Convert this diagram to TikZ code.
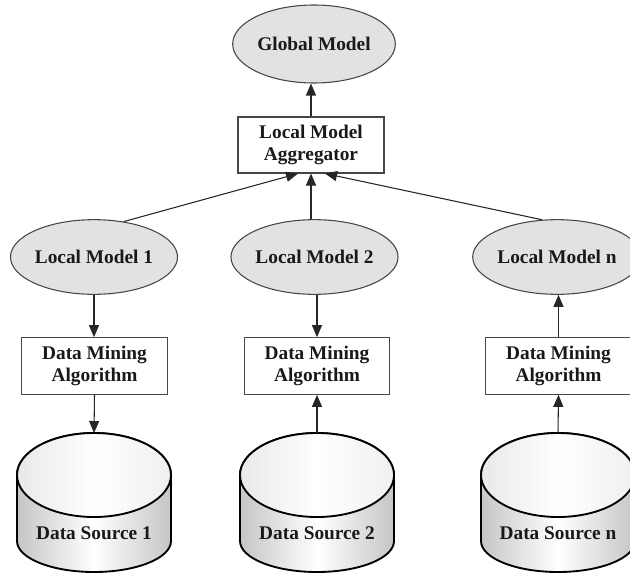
\documentclass[tikz,border=0pt]{standalone}
\usepackage{fontspec}
\setmainfont{Liberation Serif}
\usetikzlibrary{shapes.geometric,arrows.meta,calc}

\definecolor{modelfill}{RGB}{226,226,226}
\definecolor{edgegray}{RGB}{70,70,70}

\tikzset{
  base/.style={font=\fontsize{14.5}{17}\selectfont\bfseries, text=black!90, align=center, inner sep=0pt},
  model/.style={base, ellipse, draw=edgegray, line width=0.8pt, fill=modelfill,
                minimum width=123pt, minimum height=56pt},
  procbox/.style={base, rectangle, draw=edgegray, line width=0.8pt, fill=white,
                  minimum width=109pt, minimum height=42.5pt},
  lbl/.style={base},
  flow/.style={draw=black!85, line width=0.8pt, -{Triangle[length=9pt,width=7.5pt]}},
  cylbody/.style={draw=black, line width=1.4pt, shading=axis,
                  left color=gray!45, right color=gray!45, middle color=white},
  cyltop/.style={draw=black, line width=1.4pt, shading=axis,
                 left color=gray!18, right color=gray!12, middle color=white}
}

% cylinder for a data store: #1 node name, #2 x centre, #3 label
\newcommand{\dbcyl}[3]{%
  \path[cylbody] (#2-77,475) -- (#2-77,541)
     arc[start angle=180, end angle=360, x radius=57.75pt, y radius=23.25pt]
     -- (#2+77,475)
     arc[start angle=0, end angle=180, x radius=57.75pt, y radius=31.5pt] -- cycle;
  \path[cyltop] (#2,475) ellipse [x radius=57.75pt, y radius=31.5pt];
  \coordinate (#1top) at (#2,433);
  \node[lbl] (#1) at (#2,533) {#3};
}

\begin{document}
\begin{tikzpicture}[x=0.75pt, y=-0.75pt]
  \useasboundingbox (0,0) rectangle (630,574);
  \clip (0,0) rectangle (630,574);

  % top level
  \node[model, minimum width=122pt, minimum height=58.5pt] (gm) at (314,44) {Global Model};
  \node[procbox, minimum width=109.5pt, minimum height=42pt] (agg) at (311,145) {Local Model\\Aggregator};

  % local models
  \node[model] (lm1) at (94,257) {Local Model 1};
  \node[model] (lm2) at (314.5,257) {Local Model 2};
  \node[model] (lmn) at (557,257) {Local Model n};

  % mining steps
  \node[procbox] (dm1) at (94.5,366) {Data Mining\\Algorithm};
  \node[procbox] (dm2) at (317,366) {Data Mining\\Algorithm};
  \node[procbox] (dmn) at (558.5,366) {Data Mining\\Algorithm};

  % data sources
  \dbcyl{ds1}{94}{Data Source 1}
  \dbcyl{ds2}{317}{Data Source 2}
  \dbcyl{dsn}{558}{Data Source n}

  % connectors
  \draw[flow] (agg.north) -- (agg.north |- gm.south);
  \draw[flow] (lm1.50) -- ($(agg.south)+(-13,0)$);
  \draw[flow] (lm2.north -| agg.south) -- (agg.south);
  \draw[flow] (lmn.112) -- ($(agg.south)+(14,0)$);

  \draw[flow] (lm1.south) -- (lm1.south |- dm1.north);
  \draw[flow] (dm1.south) -- (ds1top);

  \draw[flow] (lm2.south -| dm2.north) -- (dm2.north);
  \draw[flow] (ds2top) -- (dm2.south);

  \draw[flow] (dsntop) -- (dmn.south);
  \draw[flow] (dmn.north) -- (dmn.north |- lmn.south);
\end{tikzpicture}
\end{document}
